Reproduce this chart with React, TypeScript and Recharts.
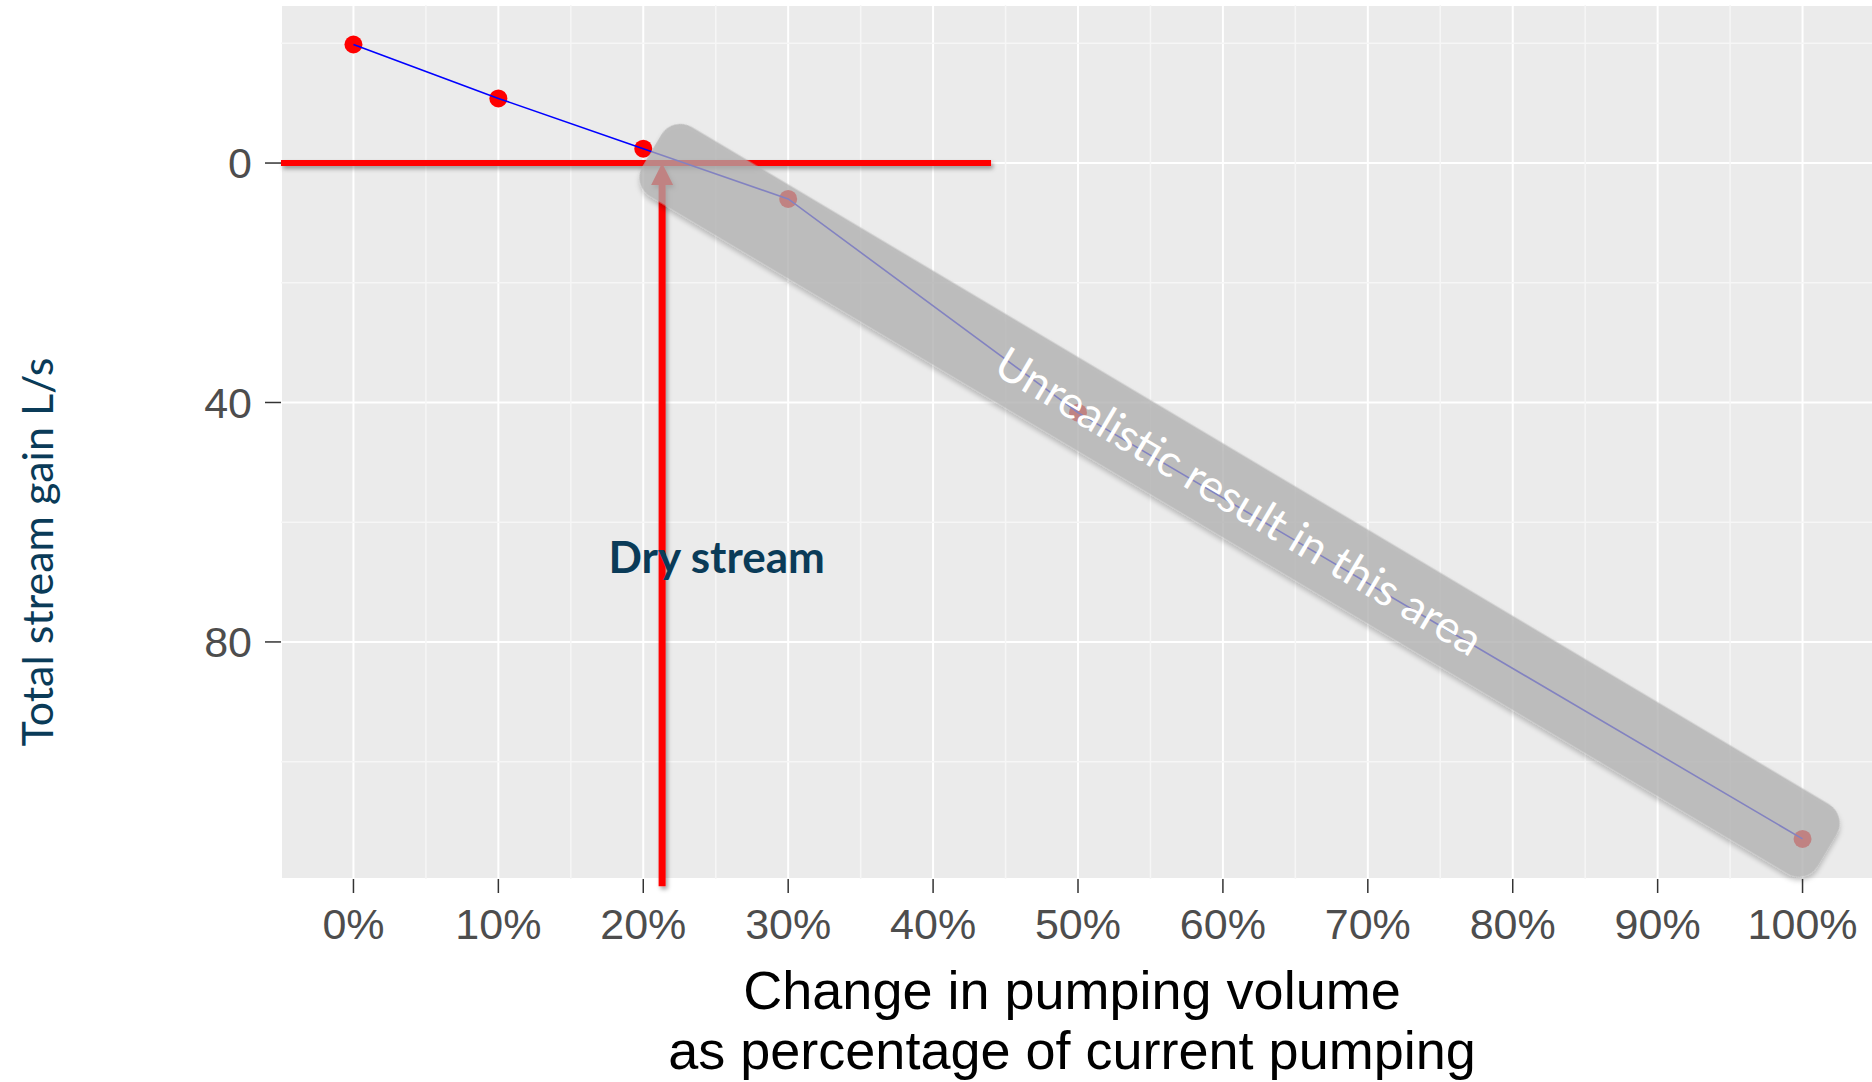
import React from 'react';
import {
  ComposedChart,
  Line,
  Scatter,
  XAxis,
  YAxis,
  CartesianGrid,
  ReferenceLine,
  ReferenceDot,
} from 'recharts';

// pumping change (%) and total stream gain (L/s)
const pct = [0, 10, 20, 30, 50, 100];
const gain = [-19.8, -10.8, -2.4, 6.0, 41.7, 112.9];

const xTicks = [0, 10, 20, 30, 40, 50, 60, 70, 80, 90, 100];
const xMinor = [5, 15, 25, 35, 45, 55, 65, 75, 85, 95];
const yTicks = [0, 40, 80];
const yMinor = [-20, 20, 60, 100];

// annotations
const zeroLineEnd = 44;
const dryX = 21.3;
const dryLabel = { x: 17.6, y: 68.4 };
const boxStart = { x: 20.6, y: -2.1 };
const boxEnd = { x: 101.7, y: 114.8 };

const data = pct.map((p, i) => ({ x: p, y: gain[i] }));

const TEAL = '#0a3b58';

function RedLine(props: any) {
  const { x1, y1, x2, y2 } = props;
  return (
    <g>
      <defs>
        <filter id="redShadow" filterUnits="userSpaceOnUse" x="0" y="0" width="2000" height="1200">
          <feDropShadow dx="2" dy="3" stdDeviation="2" floodColor="#000" floodOpacity="0.35" />
        </filter>
      </defs>
      <line x1={x1} y1={y1} x2={x2} y2={y2} stroke="#ff0000" strokeWidth={6} filter="url(#redShadow)" />
    </g>
  );
}

function Arrow(props: any) {
  const { x1, y1, y2 } = props;
  return (
    <g filter="url(#redShadow)">
      <line x1={x1} y1={y1 + 20} x2={x1} y2={y2} stroke="#ff0000" strokeWidth={7} />
      <polygon points={`${x1},${y1} ${x1 - 11},${y1 + 22} ${x1 + 11},${y1 + 22}`} fill="#ff0000" />
    </g>
  );
}

function Box(props: any) {
  const { x1, y1, x2, y2 } = props;
  const len = Math.hypot(x2 - x1, y2 - y1);
  const ang = (Math.atan2(y2 - y1, x2 - x1) * 180) / Math.PI;
  const cx = (x1 + x2) / 2;
  const cy = (y1 + y2) / 2;
  return (
    <g>
      <defs>
        <filter id="boxShadow" x="-10%" y="-60%" width="120%" height="220%">
          <feGaussianBlur in="SourceAlpha" stdDeviation="2.5" />
          <feOffset dx="2" dy="3" result="b" />
          <feFlood floodColor="#000" floodOpacity="0.3" />
          <feComposite in2="b" operator="in" result="s" />
          <feComposite in="s" in2="SourceAlpha" operator="out" result="s2" />
          <feMerge>
            <feMergeNode in="s2" />
            <feMergeNode in="SourceGraphic" />
          </feMerge>
        </filter>
      </defs>
      <g transform={`translate(${cx},${cy}) rotate(${ang})`}>
        <rect
          x={-len / 2}
          y={-40.5}
          width={len}
          height={81}
          rx={22}
          fill="rgb(174,174,174)"
          fillOpacity={0.74}
          filter="url(#boxShadow)"
        />
        <text
          x={0}
          y={0}
          textAnchor="middle"
          dominantBaseline="central"
          fill="#ffffff"
          fontFamily="Lato"
          fontSize={45}
        >
          Unrealistic result in this area
        </text>
      </g>
    </g>
  );
}

function DryText(props: any) {
  const { cx, cy } = props;
  return (
    <text x={cx} y={cy} fill={TEAL} fontFamily="Lato" fontWeight="bold" fontSize={44}>
      Dry stream
    </text>
  );
}

function XTitle(props: any) {
  const { x, y, width } = props.viewBox;
  const mid = x + width / 2 - 6;
  return (
    <text textAnchor="middle" fill="#000" fontFamily="Liberation Sans, Arial" fontSize={54}>
      <tspan x={mid} y={y + 130}>Change in pumping volume</tspan>
      <tspan x={mid} y={y + 190}>as percentage of current pumping</tspan>
    </text>
  );
}

function YTitle(props: any) {
  const { y, height } = props.viewBox;
  const cx = 36;
  const cy = y + height / 2 + 110;
  return (
    <text
      x={cx}
      y={cy}
      transform={`rotate(-90, ${cx}, ${cy})`}
      textAnchor="middle"
      dominantBaseline="central"
      fill={TEAL}
      fontFamily="Lato"
      fontSize={43}
    >
      Total stream gain L/s
    </text>
  );
}

export default function App() {
  return (
    <div style={{ position: 'absolute', left: 0, top: 0, width: 1872, height: 1082, overflow: 'hidden', background: '#fff' }}>
      <ComposedChart width={1875} height={1082} data={data} margin={{ top: 5, right: 0, bottom: 0, left: 0 }}>
        <CartesianGrid fill="#EBEBEB" stroke="#ffffff" strokeWidth={2} />
        {xMinor.map((v) => (
          <ReferenceLine key={`xm${v}`} x={v} stroke="#F6F6F6" strokeWidth={1.5} zIndex={-90} />
        ))}
        {yMinor.map((v) => (
          <ReferenceLine key={`ym${v}`} y={v} stroke="#F6F6F6" strokeWidth={1.5} zIndex={-90} />
        ))}
        <XAxis
          dataKey="x"
          type="number"
          domain={[-5, 105]}
          allowDataOverflow
          ticks={xTicks}
          tickFormatter={(v) => `${v}%`}
          axisLine={false}
          tickSize={14}
          tickMargin={15}
          tickLine={{ stroke: '#333333', strokeWidth: 1.5 }}
          tick={{ fill: '#4d4d4d', fontSize: 43, fontFamily: 'Liberation Sans, Arial' }}
          height={203}
          label={<XTitle />}
        />
        <YAxis
          type="number"
          reversed
          domain={[-26.4, 119.6]}
          allowDataOverflow
          ticks={yTicks}
          axisLine={false}
          tickSize={16}
          tickMargin={13}
          tickLine={{ stroke: '#333333', strokeWidth: 1.5 }}
          tick={{ fill: '#4d4d4d', fontSize: 43, fontFamily: 'Liberation Sans, Arial' }}
          width={281}
          label={<YTitle />}
        />
        <ReferenceLine
          segment={[{ x: -5, y: 0 }, { x: zeroLineEnd, y: 0 }]}
          shape={RedLine}
          zIndex={350}
        />
        <ReferenceLine
          segment={[{ x: dryX, y: 0 }, { x: dryX, y: 120.8 }]}
          ifOverflow="visible"
          shape={Arrow}
          zIndex={350}
        />
        <Scatter dataKey="y" fill="#ff0000" shape={(p: any) => <circle cx={p.cx} cy={p.cy} r={9} fill="#ff0000" />} isAnimationActive={false} zIndex={390} />
        <Line dataKey="y" stroke="#0000ff" strokeWidth={1.6} dot={false} activeDot={false} isAnimationActive={false} zIndex={400} />
        <ReferenceLine
          segment={[boxStart, boxEnd]}
          ifOverflow="visible"
          shape={Box}
          zIndex={700}
        />
        <ReferenceDot x={dryLabel.x} y={dryLabel.y} r={0} shape={DryText} zIndex={800} />
      </ComposedChart>
    </div>
  );
}
